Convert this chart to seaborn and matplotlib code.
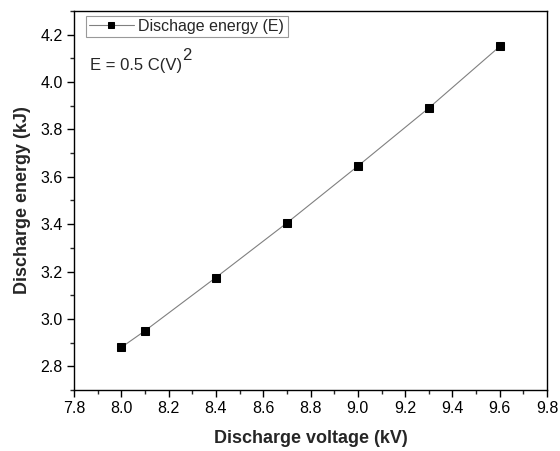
import matplotlib
matplotlib.use("Agg")
import matplotlib.pyplot as plt
import seaborn as sns
import pandas as pd
from matplotlib.ticker import MultipleLocator

voltage_kV = [8.0, 8.1, 8.4, 8.7, 9.0, 9.3, 9.6]
energy_kJ = [2.88, 2.95, 3.175, 3.405, 3.645, 3.89, 4.15]
series_label = "Dischage energy (E)"
x_label = "Discharge voltage (kV)"
y_label = "Discharge energy (kJ)"
x_ticks = [7.8, 8.0, 8.2, 8.4, 8.6, 8.8, 9.0, 9.2, 9.4, 9.6, 9.8]
y_ticks = [2.8, 3.0, 3.2, 3.4, 3.6, 3.8, 4.0, 4.2]

sns.set_style("ticks")
plt.rcParams['font.family'] = ['Liberation Sans', 'DejaVu Sans']

df = pd.DataFrame({"V": voltage_kV, "E": energy_kJ})

fig = plt.figure(figsize=(5.6, 4.51), dpi=100)
ax = fig.add_axes([0.132, 0.135, 0.845, 0.841])

sns.lineplot(data=df, x="V", y="E", ax=ax, color="#808080", linewidth=0.8,
             marker="s", markersize=5.2, markerfacecolor="black",
             markeredgecolor="black", label=series_label)

ax.set_xticks(x_ticks)
ax.set_xticklabels([f"{v:.1f}" for v in x_ticks])
ax.set_yticks(y_ticks)
ax.set_yticklabels([f"{v:.1f}" for v in y_ticks])
ax.xaxis.set_minor_locator(MultipleLocator(0.1))
ax.yaxis.set_minor_locator(MultipleLocator(0.1))
ax.set_xlim(7.8, 9.8)
ax.set_ylim(2.7, 4.3)
ax.tick_params(axis='both', which='major', direction='out', length=5, width=1,
               labelsize=11.5, colors='black', pad=3)
ax.tick_params(axis='both', which='minor', direction='out', length=3, width=1)
for s in ax.spines.values():
    s.set_visible(True)
    s.set_linewidth(1.0)
    s.set_color('black')

ax.set_xlabel(x_label, fontsize=13, fontweight='bold', labelpad=10)
ax.set_ylabel(y_label, fontsize=13, fontweight='bold', labelpad=7)

leg = ax.legend(loc='upper left', bbox_to_anchor=(0.025, 0.987), fontsize=11.5,
                frameon=True, fancybox=False, borderpad=0.2, handlelength=2.8,
                handletextpad=0.3, borderaxespad=0)
leg.get_frame().set_edgecolor('#808080')
leg.get_frame().set_linewidth(0.8)
for h in leg.legend_handles:
    h.set_markersize(4.5)

t = ax.text(0.035, 0.855, "E = 0.5 C(V)", transform=ax.transAxes,
            fontsize=12, ha='left', va='center')
ax.annotate("2", xy=(1.0, 0.72), xycoords=t, xytext=(0, 0),
            textcoords='offset points', fontsize=12, ha='left', va='bottom')

fig.savefig("out.png", dpi=100)
